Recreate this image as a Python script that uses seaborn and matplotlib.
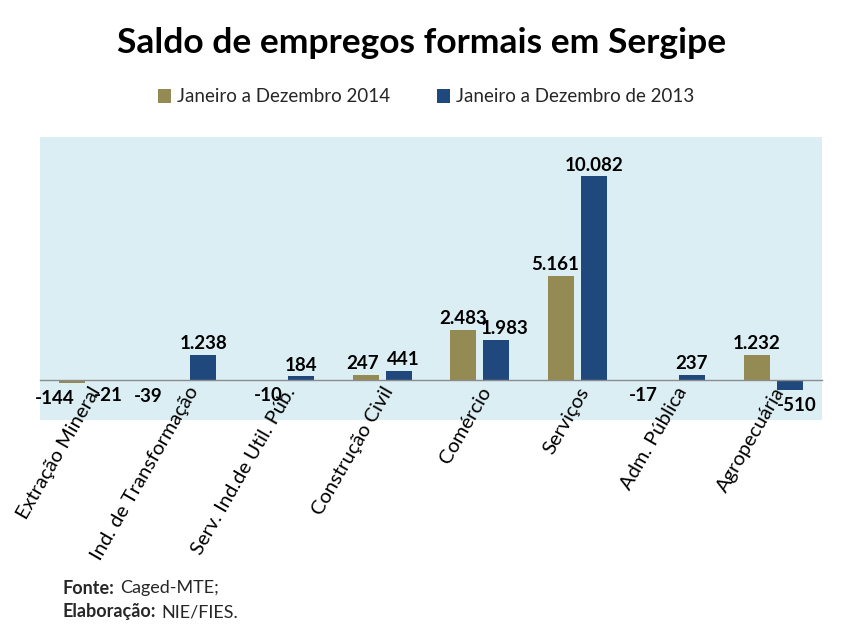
import matplotlib
matplotlib.use("Agg")
import matplotlib.pyplot as plt
import seaborn as sns
import pandas as pd
import numpy as np
from matplotlib.patches import Patch

categories = ["Extração Mineral", "Ind. de Transformação", "Serv. Ind.de Util. Púb.",
              "Construção Civil", "Comércio", "Serviços", "Adm. Pública", "Agropecuária"]
series_names = ["Janeiro a Dezembro 2014", "Janeiro a Dezembro de 2013"]
values_2014 = [-144, -39, -10, 247, 2483, 5161, -17, 1232]
values_2013 = [-21, 1238, 184, 441, 1983, 10082, 237, -510]

colors = ["#948A54", "#1F497D"]

df = pd.DataFrame({
    "cat": categories * 2,
    "serie": [series_names[0]] * len(categories) + [series_names[1]] * len(categories),
    "val": values_2014 + values_2013,
})

sns.set_theme(style="white")
plt.rcParams['font.family'] = ['Lato', 'DejaVu Sans']

fig = plt.figure(figsize=(8.46, 6.38), dpi=100)
ax = fig.add_axes([40/846, 1-420/638, 782/846, 283/638])
ax.set_facecolor("#DBEEF4")

sns.barplot(data=df, x="cat", y="val", hue="serie", palette=colors,
            width=0.675, gap=0.21, ax=ax, legend=False, errorbar=None,
            saturation=1, linewidth=0, edgecolor="none")

ax.set_ylim(-1980, 12030)
ax.set_xlim(-0.5, len(categories) - 0.5)
ax.set_yticks([])
ax.set_xlabel("")
ax.set_ylabel("")
for s in ["top", "left", "right"]:
    ax.spines[s].set_visible(False)
ax.spines["bottom"].set_position(("data", 0))
ax.spines["bottom"].set_color("#8C8C8C")
ax.spines["bottom"].set_linewidth(1.0)
ax.tick_params(axis="x", length=0, pad=3)
ax.set_xticks(range(len(categories)))
ax.set_xticklabels(categories, rotation=60, ha="right", rotation_mode="anchor",
                   fontsize=14.5, color="black")

def fmt(v):
    return f"{v:,}".replace(",", ".")

# horizontal nudges (points) of the value labels, as placed in the original
nudge = [[-13, -16, 0, -2, 0, -4, -11, 0], [2, 0, 0, 3, 6, 0, 0, 5]]

for si, cont in enumerate(ax.containers):
    for ci, bar in enumerate(cont):
        h = bar.get_height()
        x = bar.get_x() + bar.get_width() / 2
        if h >= 0:
            ax.annotate(fmt(int(round(h))), (x, h), xytext=(nudge[si][ci], 2),
                        textcoords="offset points",
                        ha="center", va="bottom", fontsize=13.5, fontweight="bold", color="black")
        else:
            ax.annotate(fmt(int(round(h))), (x, h), xytext=(nudge[si][ci], -5),
                        textcoords="offset points",
                        ha="center", va="top", fontsize=13.5, fontweight="bold", color="black")

fig.text(422/846, 1-43/638, "Saldo de empregos formais em Sergipe", ha="center", va="center",
         fontsize=25.5, fontweight="bold", color="black")

handles = [Patch(facecolor=c, edgecolor="none") for c in colors]
fig.legend(handles, series_names, loc="center", bbox_to_anchor=(426/846, 1-97/638),
           ncol=2, frameon=False, fontsize=13.5, handlelength=0.7, handleheight=0.7,
           handletextpad=0.3, columnspacing=2.5)

fig.canvas.draw()
renderer = fig.canvas.get_renderer()
for (b, r, y) in [("Fonte:", "Caged-MTE;", 588), ("Elaboração:", "NIE/FIES.", 612)]:
    t = fig.text(63/846, 1-y/638, b, fontweight="bold", fontsize=13, va="center")
    w = t.get_window_extent(renderer).width
    fig.text((63 + w + 5)/846, 1-y/638, r, fontsize=13, va="center")

fig.savefig("out.png", dpi=100)
